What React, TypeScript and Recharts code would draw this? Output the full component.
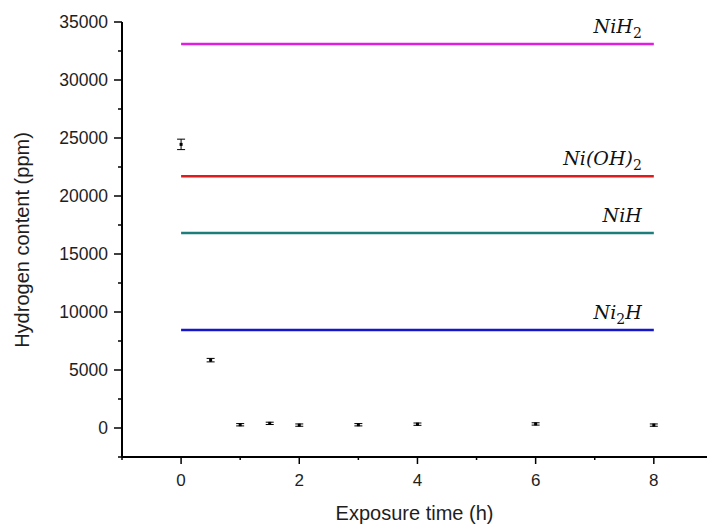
import { ComposedChart, Line, Scatter, ErrorBar, XAxis, YAxis, LabelList } from 'recharts';

// measured points (exposure time in h, hydrogen in ppm, +/- error)
const times = [0, 0.5, 1, 1.5, 2, 3, 4, 6, 8];
const hydrogen = [24450, 5850, 280, 400, 250, 280, 330, 350, 250];
const errors = [450, 150, 100, 100, 100, 100, 100, 100, 100];

// theoretical hydrogen contents of the Ni phases
const phaseNames = ['NiH2', 'Ni(OH)2', 'NiH', 'Ni2H'];
const phaseLevels = [33100, 21700, 16800, 8450];
const phaseColors = ['#e21de2', '#e01b1b', '#1d7d7b', '#1515cc'];
const phaseSpan = [0, 8];

const xTicks = [-1, 0, 1, 2, 3, 4, 5, 6, 7, 8];
const yTicks = [-2500, 0, 2500, 5000, 7500, 10000, 12500, 15000, 17500, 20000, 22500, 25000, 27500, 30000, 32500, 35000];

const FONT = '"Liberation Sans", Arial, sans-serif';
const INK = '#1e1e1e';

const points = times.map((t, i) => ({ x: t, y: hydrogen[i], err: errors[i] }));

function XTick({ x, y, payload }: any) {
  const major = payload.value % 2 === 0;
  return (
    <g>
      <line x1={x} y1={y} x2={x} y2={y + (major ? 7 : 3)} stroke="#000" strokeWidth={1.5} />
      {major && (
        <text x={x} y={y + 29} textAnchor="middle" fontSize={17} fontFamily={FONT} fill={INK}>
          {payload.value}
        </text>
      )}
    </g>
  );
}

function YTick({ x, y, payload }: any) {
  const major = payload.value % 5000 === 0;
  return (
    <g>
      <line x1={x - (major ? 8 : 4)} y1={y} x2={x} y2={y} stroke="#000" strokeWidth={1.5} />
      {major && (
        <text x={x - 14} y={y + 6} textAnchor="end" fontSize={17.5} fontFamily={FONT} fill={INK}>
          {payload.value}
        </text>
      )}
    </g>
  );
}

function phaseLabel(name: string) {
  return (props: any) => {
    if (props.index !== 1) return null;
    const parts = name.split(/(\d)/).filter((p) => p !== '');
    let shifted = false;
    return (
      <text
        x={props.x - 12}
        y={props.y - 11}
        textAnchor="end"
        fontSize={19}
        fontStyle="italic"
        fontFamily='"DejaVu Serif", serif'
        fill="#111"
      >
        {parts.map((p, i) => {
          if (/\d/.test(p)) {
            shifted = true;
            return (
              <tspan key={i} dy={5} fontSize={14} fontStyle="normal">
                {p}
              </tspan>
            );
          }
          const dy = shifted ? -5 : 0;
          shifted = false;
          return (
            <tspan key={i} dy={dy}>
              {p}
            </tspan>
          );
        })}
      </text>
    );
  };
}

const marker = ({ cx, cy }: any) => <rect x={cx - 1.5} y={cy - 1.5} width={3} height={3} fill="#000" />;

export default function App() {
  return (
    <div style={{ position: 'absolute', left: 0, top: 0, background: '#fff' }}>
      <ComposedChart width={707} height={524} margin={{ top: 22, right: 0, left: 0, bottom: 0 }}>
        <XAxis
          type="number"
          dataKey="x"
          domain={[-1, 8.9]}
          ticks={xTicks}
          interval={0}
          allowDataOverflow
          height={67}
          tickSize={0}
          tickMargin={0}
          tickLine={false}
          tick={<XTick />}
          axisLine={{ stroke: '#000', strokeWidth: 2 }}
          label={{
            value: 'Exposure time (h)',
            position: 'insideBottom',
            offset: 4,
            fontSize: 20,
            fontFamily: FONT,
            fill: INK,
          }}
        />
        <YAxis
          type="number"
          domain={[-2500, 35000]}
          ticks={yTicks}
          interval={0}
          allowDataOverflow
          width={122}
          tickSize={0}
          tickMargin={0}
          tickLine={false}
          tick={<YTick />}
          axisLine={{ stroke: '#000', strokeWidth: 2 }}
          label={{
            content: () => (
              <text
                transform="translate(29,240) rotate(-90)"
                textAnchor="middle"
                fontSize={20}
                fontFamily={FONT}
                fill={INK}
              >
                Hydrogen content (ppm)
              </text>
            ),
          }}
        />
        {phaseNames.map((name, i) => (
          <Line
            key={name}
            data={phaseSpan.map((x) => ({ x, y: phaseLevels[i] }))}
            dataKey="y"
            stroke={phaseColors[i]}
            strokeWidth={2.5}
            dot={false}
            activeDot={false}
            isAnimationActive={false}
          >
            <LabelList dataKey="y" content={phaseLabel(name)} />
          </Line>
        ))}
        <Scatter data={points} dataKey="y" shape={marker} isAnimationActive={false}>
          <ErrorBar dataKey="err" direction="y" width={4} stroke="#000" strokeWidth={1} />
        </Scatter>
      </ComposedChart>
    </div>
  );
}
